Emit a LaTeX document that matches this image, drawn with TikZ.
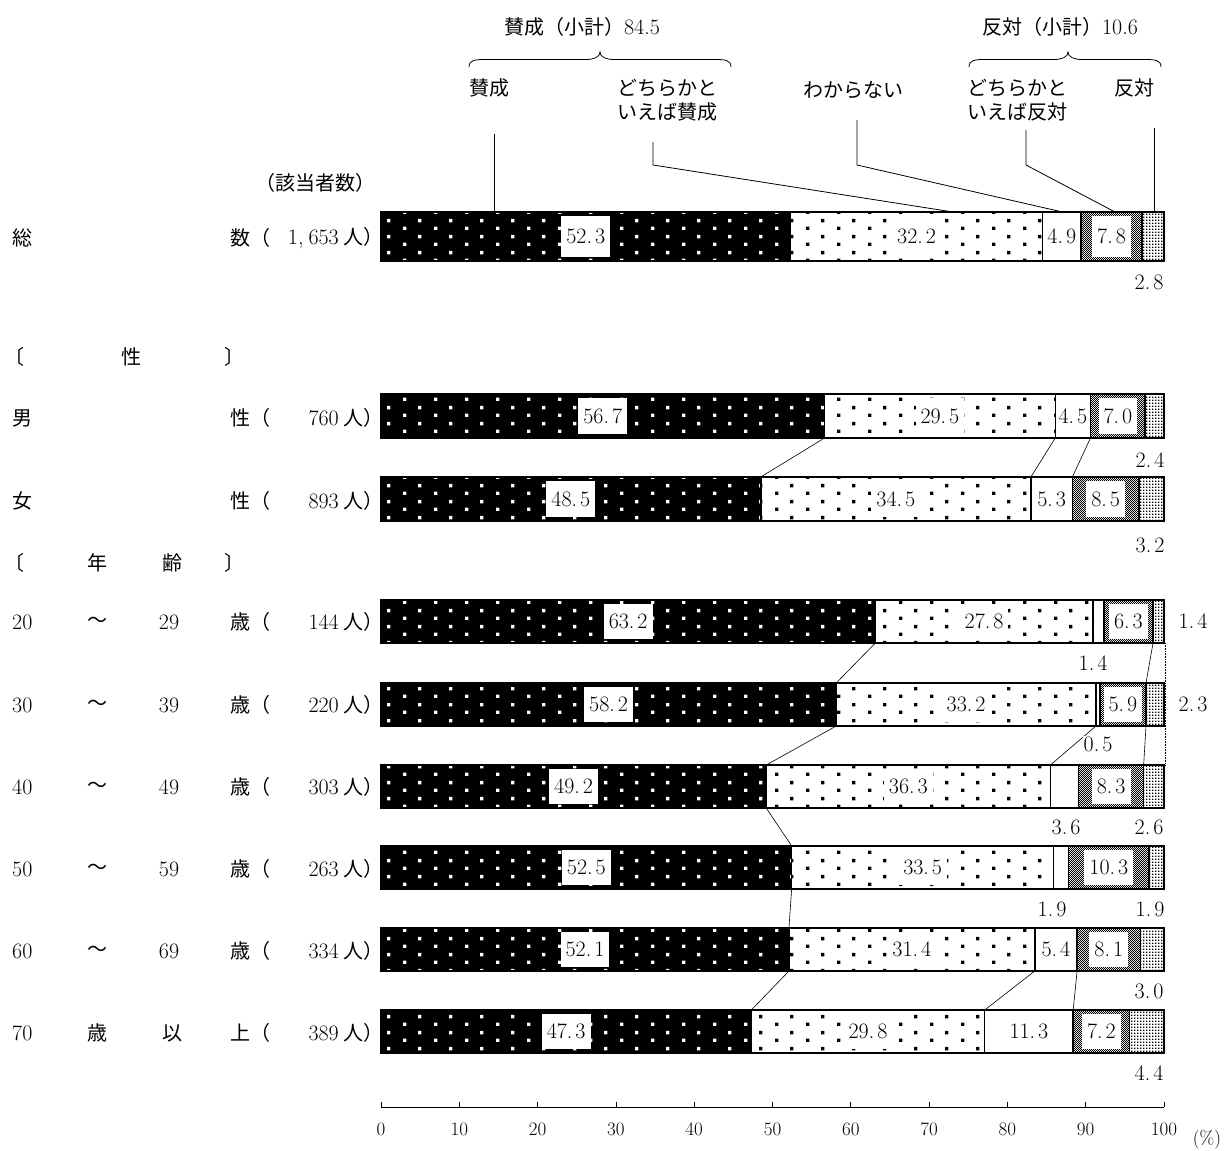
\documentclass[tikz,border=0pt]{standalone}
\usepackage{fontspec}
\newfontfamily\jp{Noto Sans CJK JP}
\usetikzlibrary{patterns}
\pgfdeclarepatternformonly{sdots}{\pgfqpoint{0pt}{0pt}}{\pgfqpoint{31pt}{15.6pt}}{\pgfqpoint{31pt}{15.6pt}}{%
 \pgfpathrectangle{\pgfqpoint{0pt}{0pt}}{\pgfqpoint{3.4pt}{3.4pt}}%
 \pgfpathrectangle{\pgfqpoint{15.5pt}{7.8pt}}{\pgfqpoint{3.4pt}{3.4pt}}%
 \pgfusepath{fill}}
\pgfdeclarepatternformonly{checker}{\pgfqpoint{0pt}{0pt}}{\pgfqpoint{2.4pt}{2.4pt}}{\pgfqpoint{2.4pt}{2.4pt}}{%
 \pgfpathrectangle{\pgfqpoint{0pt}{0pt}}{\pgfqpoint{1.2pt}{1.2pt}}%
 \pgfpathrectangle{\pgfqpoint{1.2pt}{1.2pt}}{\pgfqpoint{1.2pt}{1.2pt}}%
 \pgfusepath{fill}}
\pgfdeclarepatternformonly{fdots}{\pgfqpoint{0pt}{0pt}}{\pgfqpoint{3pt}{3pt}}{\pgfqpoint{3pt}{3pt}}{%
 \pgfpathrectangle{\pgfqpoint{0pt}{0pt}}{\pgfqpoint{1.7pt}{1.7pt}}%
 \pgfusepath{fill}}
\def\pv#1.#2\relax{#1.\kern3pt#2}
\tikzset{
 jtxt/.style={font=\jp\fontsize{20}{24}\selectfont, inner sep=0pt},
 ntxt/.style={font=\fontsize{22}{26}\selectfont, inner sep=0pt},
 atxt/.style={font=\fontsize{19}{22}\selectfont, inner sep=0pt},
 vlab/.style={ntxt, fill=white, inner xsep=5pt, inner ysep=0pt},
 olab/.style={ntxt, fill=white, inner xsep=1pt, inner ysep=1pt},
 seg/.style={draw=black, line width=1.5pt},
 conn/.style={line width=0.6pt},
 lead/.style={line width=0.8pt},
}
\newcommand\barrow[8]{%
 \pgfmathsetmacro\btot{#4+#5+#6+#7+#8}%
 \pgfmathsetmacro\bxa{381+7.83*((#4)/\btot*100)}%
 \pgfmathsetmacro\bxb{381+7.83*((#4+#5)/\btot*100)}%
 \pgfmathsetmacro\bxc{381+7.83*((#4+#5+#6)/\btot*100)}%
 \pgfmathsetmacro\bxd{381+7.83*((#4+#5+#6+#7)/\btot*100)}%
 \pgfmathsetmacro\bym{(#2+#3)/2}%
 \pgfmathsetmacro\bbh{#3-#2-8}%
 \fill[black] (381,#2) rectangle (\bxa,#3);
 \fill[pattern=sdots,pattern color=white] (381,#2) rectangle (\bxa,#3);
 \fill[pattern=sdots,pattern color=black] (\bxa,#2) rectangle (\bxb,#3);
 \fill[pattern=checker,pattern color=black] (\bxc,#2) rectangle (\bxd,#3);
 \fill[pattern=fdots,pattern color=black] (\bxd,#2) rectangle (1164,#3);
 \foreach \l/\r in {381/\bxa,\bxa/\bxb,\bxb/\bxc,\bxc/\bxd,\bxd/1164}
   \draw[seg] (\l,#2) rectangle (\r,#3);
 \coordinate (#1-a-t) at (\bxa,#2); \coordinate (#1-a-b) at (\bxa,#3);
 \coordinate (#1-b-t) at (\bxb,#2); \coordinate (#1-b-b) at (\bxb,#3);
 \coordinate (#1-c-t) at (\bxc,#2); \coordinate (#1-c-b) at (\bxc,#3);
 \coordinate (#1-d-t) at (\bxd,#2); \coordinate (#1-d-b) at (\bxd,#3);
 \coordinate (#1-e-t) at (1165,#2); \coordinate (#1-e-b) at (1165,#3);
 \node[vlab, minimum height=\bbh] (#1-v1) at ({(381+\bxa)/2},\bym) {\pv#4\relax};
 \node[vlab, minimum height=\bbh] (#1-v2) at ({(\bxa+\bxb)/2},\bym) {\pv#5\relax};
 \ifdim #6pt>3.9pt
 \node[ntxt] (#1-v3) at ({(\bxb+\bxc)/2},\bym) {\pv#6\relax};
 \fi
 \begin{scope}
 \clip (\bxc+3,#2+3.5) rectangle (\bxd-3,#3-3.5);
 \node[vlab, minimum height=\bbh] (#1-v4) at ({(\bxc+\bxd)/2},\bym) {\pv#7\relax};
 \end{scope}
}
\newcommand\jbrace[4]{% left x, cusp x, right x, name
 \coordinate (#4-l) at (#1,67); \coordinate (#4-c) at (#2,52); \coordinate (#4-r) at (#3,67);
 \draw[lead] (#4-l) .. controls (#1,60) and (#1+6,59.5) .. (#1+16,59.5)
   -- (#2-14,59.5) .. controls (#2-6,59.5) and (#2,57) .. (#4-c)
   .. controls (#2,57) and (#2+6,59.5) .. (#2+14,59.5)
   -- (#3-16,59.5) .. controls (#3-6,59.5) and (#3,60) .. (#4-r);
}
\begin{document}
\begin{tikzpicture}[x=1pt,y=-1pt]
\useasboundingbox[fill=white] (0,0) rectangle (1227,1151);
% header
\node[jtxt] (h1) at (582,27) {賛成（小計）\fontspec{Latin Modern Roman}\fontsize{22}{26}\selectfont 84.5};
\node[jtxt] (h2) at (1060,27) {反対（小計）\fontspec{Latin Modern Roman}\fontsize{22}{26}\selectfont 10.6};
\jbrace{469}{600}{731}{br1}
\jbrace{969}{1068}{1161}{br2}
\node[jtxt] (c1) at (489,88) {賛成};
\node[jtxt, align=left] (c2) at (667,100) {どちらかと\\いえば賛成};
\node[jtxt] (c3) at (853,90) {わからない};
\node[jtxt, align=left] (c4) at (1017,100) {どちらかと\\いえば反対};
\node[jtxt] (c5) at (1134,88) {反対};
% left column
\node[jtxt] (hd) at (315,183) {（該当者数）};
\barrow{tot}{212}{261}{52.3}{32.2}{4.9}{7.8}{2.8}
\barrow{m}{394}{438}{56.7}{29.5}{4.5}{7.0}{2.4}
\barrow{f}{477}{521}{48.5}{34.5}{5.3}{8.5}{3.2}
\barrow{a20}{600}{643}{63.2}{27.8}{1.4}{6.3}{1.4}
\barrow{a30}{683}{726}{58.2}{33.2}{0.5}{5.9}{2.3}
\barrow{a40}{765}{808}{49.2}{36.3}{3.6}{8.3}{2.6}
\barrow{a50}{846}{889}{52.5}{33.5}{1.9}{10.3}{1.9}
\barrow{a60}{928}{971}{52.1}{31.4}{5.4}{8.1}{3.0}
\barrow{a70}{1010}{1053}{47.3}{29.8}{11.3}{7.2}{4.4}
% leaders from the category labels
\coordinate (k1) at (494.6,134); \coordinate (e1) at (494.6,212);
\coordinate (k2) at (653,142); \coordinate (j2) at (653,165); \coordinate (e2) at (953,212);
\coordinate (k3) at (857,120); \coordinate (j3) at (857,165); \coordinate (e3) at (1062.5,212);
\coordinate (k4) at (1026,130); \coordinate (j4) at (1026,165); \coordinate (e4) at (1115,212);
\coordinate (k5) at (1154,128); \coordinate (e5) at (1154,212);
\draw[lead] (k1) -- (e1);
\draw[lead] (k2) -- (j2) -- (e2);
\draw[lead] (k3) -- (j3) -- (e3);
\draw[lead] (k4) -- (j4) -- (e4);
\draw[lead] (k5) -- (e5);
% connectors between rows
\draw[conn] (m-a-b) -- (f-a-t);
\draw[conn] (m-b-b) -- (f-b-t);
\draw[conn] (m-c-b) -- (f-c-t);
\draw[conn] (a20-a-b) -- (a30-a-t);
\draw[conn] (a20-d-b) -- (a30-d-t);
\draw[conn] (a30-a-b) -- (a40-a-t);
\draw[conn] (a30-b-b) -- (a40-b-t);
\draw[conn] (a30-d-b) -- (a40-d-t);
\draw[conn] (a40-a-b) -- (a50-a-t);
\draw[conn] (a50-a-b) -- (a60-a-t);
\draw[conn] (a60-a-b) -- (a70-a-t);
\draw[conn] (a60-b-b) -- (a70-b-t);
\draw[conn] (a60-c-b) -- (a70-c-t);
\draw[conn, densely dotted] (a20-e-b) -- (a40-e-t);
% outside values
\node[olab] (tot-o5) at (1149,282) {\pv2.8\relax};
\node[olab] (m-o5) at (1150,460) {\pv2.4\relax};
\node[olab] (f-o5) at (1150,545) {\pv3.2\relax};
\node[olab] (a20-o5) at (1193,621) {\pv1.4\relax};
\node[olab] (a20-o3) at (1093,663) {\pv1.4\relax};
\node[olab] (a30-o5) at (1193,704) {\pv2.3\relax};
\node[olab] (a30-o3) at (1098,744) {\pv0.5\relax};
\node[olab] (a40-o3) at (1066,827) {\pv3.6\relax};
\node[olab] (a40-o5) at (1149,827) {\pv2.6\relax};
\node[olab] (a50-o3) at (1052,909) {\pv1.9\relax};
\node[olab] (a50-o5) at (1150,909) {\pv1.9\relax};
\node[olab] (a60-o5) at (1149,991) {\pv3.0\relax};
\node[olab] (a70-o5) at (1149,1073) {\pv4.4\relax};
% row labels
\node[jtxt, anchor=west] (r0a) at (12,238) {総};
\node[jtxt, anchor=west] (r0b) at (230,238) {数（};
\node[ntxt, anchor=east] (r0c) at (384,238) {1,\kern5pt653\kern5pt{\jp\fontsize{20}{24}\selectfont 人）}};
\node[jtxt, anchor=west] (g1a) at (4,357) {〔};
\node[jtxt] (g1b) at (131,357) {性};
\node[jtxt, anchor=west] (g1c) at (224,357) {〕};
\node[jtxt, anchor=west] (r1a) at (12,418) {男};
\node[jtxt, anchor=west] (r1b) at (230,418) {性（};
\node[ntxt, anchor=east] (r1c) at (384,418) {760\kern5pt{\jp\fontsize{20}{24}\selectfont 人）}};
\node[jtxt, anchor=west] (r2a) at (12,501) {女};
\node[jtxt, anchor=west] (r2b) at (230,501) {性（};
\node[ntxt, anchor=east] (r2c) at (384,501) {893\kern5pt{\jp\fontsize{20}{24}\selectfont 人）}};
\node[jtxt, anchor=west] (g2a) at (4,563) {〔};
\node[jtxt] (g2b) at (97,563) {年};
\node[jtxt] (g2c) at (172,563) {齢};
\node[jtxt, anchor=west] (g2d) at (224,563) {〕};
\foreach \nm/\yy/\lo/\hi/\cnt in {a20/622/20/29/144, a30/705/30/39/220, a40/787/40/49/303, a50/869/50/59/263, a60/951/60/69/334}{
 \node[ntxt, anchor=west] (\nm-la) at (12,\yy) {\lo};
 \node[jtxt] (\nm-lb) at (97,\yy) {～};
 \node[ntxt] (\nm-lc) at (169,\yy) {\hi};
 \node[jtxt, anchor=west] (\nm-ld) at (230,\yy) {歳（};
 \node[ntxt, anchor=east] (\nm-le) at (384,\yy) {\cnt\kern5pt{\jp\fontsize{20}{24}\selectfont 人）}};
}
\node[ntxt, anchor=west] (a70-la) at (12,1033) {70};
\node[jtxt] (a70-lb) at (97,1033) {歳};
\node[jtxt] (a70-lc) at (172,1033) {以};
\node[jtxt, anchor=west] (a70-ld) at (230,1033) {上（};
\node[ntxt, anchor=east] (a70-le) at (384,1033) {389\kern5pt{\jp\fontsize{20}{24}\selectfont 人）}};
% axis
\coordinate (ax0) at (381,1107); \coordinate (ax100) at (1164,1107);
\draw[line width=0.8pt] (ax0) -- (ax100);
\foreach \i in {0,...,10}{
 \draw[line width=0.8pt] (381+78.3*\i,1107) -- ++(0,-5);
 \pgfmathtruncatemacro\tk{10*\i}
 \node[atxt] (tk\i) at (381+78.3*\i,1129) {\tk};
}
\node[atxt] (pct) at (1207,1140) {(\%)};
\end{tikzpicture}
\end{document}
